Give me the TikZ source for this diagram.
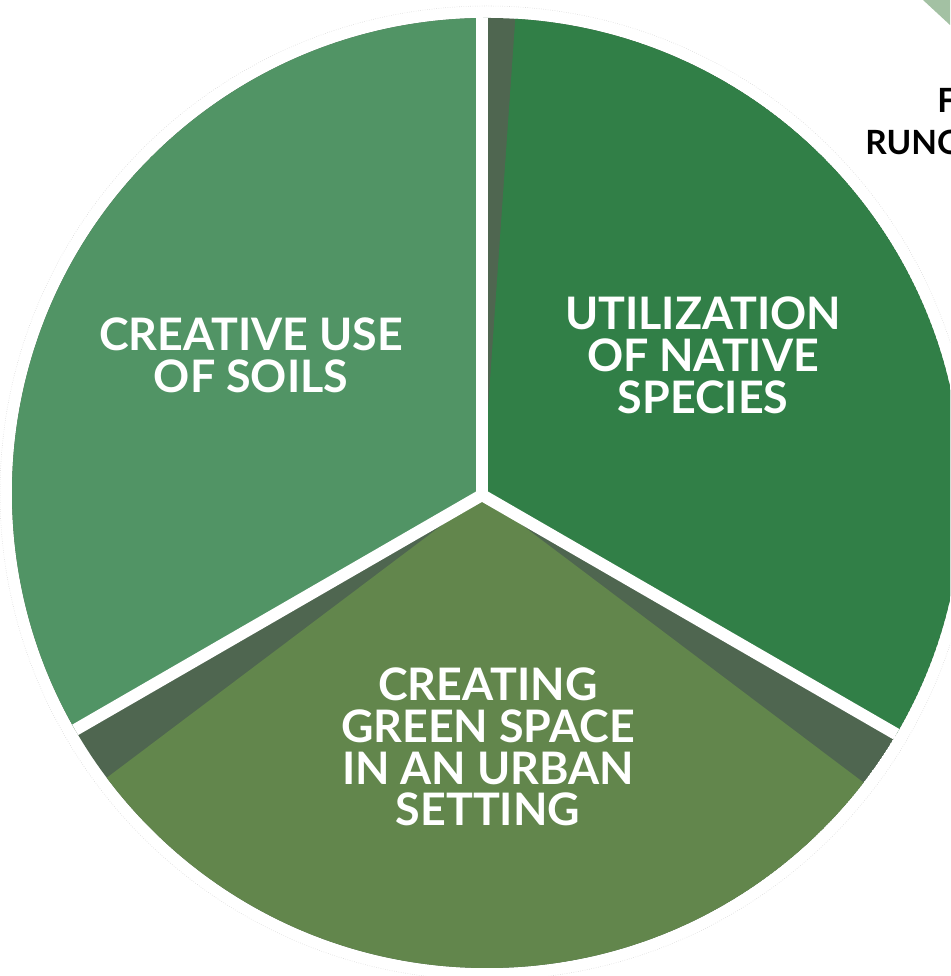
\documentclass[tikz,border=0pt]{standalone}
\usepackage{fontspec}
\setsansfont{Lato}
\usetikzlibrary{math}
\definecolor{soilgreen}{HTML}{519465}
\definecolor{nativegreen}{HTML}{317F47}
\definecolor{urbangreen}{HTML}{62864C}
\definecolor{shadowgreen}{HTML}{4F6650}
\definecolor{sagegreen}{HTML}{A3C1A3}
\begin{document}
\begin{tikzpicture}[x=0.02cm,y=0.02cm,
	slicelabel/.style={text=white,inner sep=0pt,align=center,
		font=\sffamily\bfseries\fontsize{25.5}{23.8}\selectfont},
	sidelabel/.style={text=black,inner sep=0pt,anchor=west,
		font=\sffamily\bfseries\fontsize{19}{24}\selectfont},
	septrack/.style={white,line width=0.24cm}]
	\tikzmath{\cx=487; \cy=483; \rin=475; \rout=487;
	\hx=482; \hy=481;}
	\clip (0,0) rectangle (950,976);
	\fill[white] (0,0) rectangle (950,976);
	\fill[sagegreen] (923,976) -- (950,951) -- (950,976) -- cycle;
	\draw[gray!35, line width=0.3pt, densely dotted] (\cx,\cy) circle (\rout);
	\coordinate (hub) at (\hx,\hy);
	\begin{scope}
		\clip (\cx,\cy) circle (\rin);
		\fill[shadowgreen] (\cx,\cy) circle (\rin);
		\begin{scope}[shift={(hub)}]
			\fill[soilgreen] (0,0) -- (90:1000) -- (150:1000) -- (210:1000) -- cycle;
			\fill[nativegreen] (0,0) -- (86:1000) -- (30:1000) -- (-30:1000) -- cycle;
			\fill[urbangreen] (0,0) -- (217:1000) -- (270:1000) -- (323:1000) -- cycle;
		\end{scope}
		\foreach \a in {90,210,330}
			\draw[septrack] (hub) -- ++(\a:1000);
	\end{scope}

	\node[slicelabel] (soils) at (251,621) {CREATIVE USE\\OF SOILS};
	\node[slicelabel] (native) at (703,621) {UTILIZATION\\OF NATIVE\\SPECIES};
	\node[slicelabel] (urban) at (488,229) {CREATING\\GREEN SPACE\\IN AN URBAN\\SETTING};
	\node[sidelabel] (upperword) at (937,876) {F};
	\node[sidelabel] (lowerword) at (865,834) {RUNO};
\end{tikzpicture}
\end{document}
